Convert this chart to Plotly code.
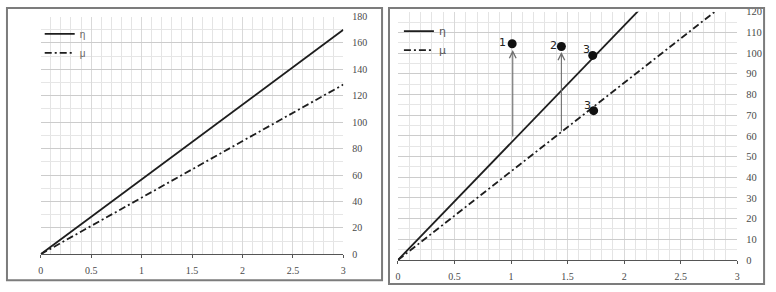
import plotly.graph_objects as go

# ---- data ----
line_x = [0, 3]
eta_y = [0, 170]
mu_y = [0, 128.5]

pt_x = [1.01, 1.445, 1.722, 1.73]
pt_y = [104.5, 103.2, 98.9, 72.2]
pt_labels = ["1", "2", "3", "3"]

arrow_x = [1.015, 1.445]
arrow_from = [59, 61.5]
arrow_to = [101.5, 100.5]

left_yticks = list(range(0, 181, 20))
right_yticks = list(range(0, 121, 10))
x_ticks = [0, 0.5, 1, 1.5, 2, 2.5, 3]
x_ticklabels = ["0", "0.5", "1", "1.5", "2", "2.5", "3"]

# label offsets (style, pixels)
lbl_xshift = [-10, -8, -6, -6]
lbl_yshift = [1, 1, 6, 5]

W, H = 776, 292
def px(v): return v / W
def py(v): return 1 - v / H

SERIF = "Liberation Serif"
SANS = "DejaVu Sans"
TICKC = "#4a4a4a"
AXC = "#555555"

fig = go.Figure()

eta_style = dict(color="#1e1e1e", width=1.8)
mu_style = dict(color="#1e1e1e", width=1.8, dash="7px,3px,2px,3px")

# left panel
fig.add_trace(go.Scatter(x=line_x, y=eta_y, mode="lines", name="η", line=eta_style,
                         xaxis="x", yaxis="y", legend="legend"))
fig.add_trace(go.Scatter(x=line_x, y=mu_y, mode="lines", name="μ", line=mu_style,
                         xaxis="x", yaxis="y", legend="legend"))
# right panel
fig.add_trace(go.Scatter(x=line_x, y=eta_y, mode="lines", name="η", line=eta_style,
                         xaxis="x2", yaxis="y2", legend="legend2"))
fig.add_trace(go.Scatter(x=line_x, y=mu_y, mode="lines", name="μ", line=mu_style,
                         xaxis="x2", yaxis="y2", legend="legend2"))
fig.add_trace(go.Scatter(x=pt_x, y=pt_y, mode="markers",
                         marker=dict(color="#111", size=9), showlegend=False,
                         xaxis="x2", yaxis="y2", cliponaxis=False))

for xv, yv, t, dx, dy in zip(pt_x, pt_y, pt_labels, lbl_xshift, lbl_yshift):
    fig.add_annotation(x=xv, y=yv, xref="x2", yref="y2", text=t, showarrow=False,
                       xshift=dx, yshift=dy, xanchor="center", yanchor="middle",
                       font=dict(family=SANS, size=11, color="#222"))

for xa, y0, y1 in zip(arrow_x, arrow_from, arrow_to):
    fig.add_annotation(x=xa, y=y1, ax=xa, ay=y0, xref="x2", yref="y2",
                       axref="x2", ayref="y2", text="", showarrow=True,
                       arrowhead=5, arrowsize=1.2, arrowwidth=1.1,
                       arrowcolor="#6e6e6e", standoff=0)

xcommon = dict(range=[0, 3], tickvals=x_ticks, ticktext=x_ticklabels,
               ticks="outside", ticklen=3, tickcolor=AXC, showline=True,
               linecolor=AXC, linewidth=1, showgrid=True, gridcolor="#d9d9d9",
               gridwidth=1, zeroline=False, ticklabelstandoff=4,
               tickfont=dict(family=SERIF, size=10, color=TICKC),
               minor=dict(dtick=0.1, showgrid=True, gridcolor="#e4e4e4", ticks=""),
               fixedrange=True)

fig.update_layout(
    width=W, height=H, margin=dict(l=0, r=0, t=0, b=0),
    paper_bgcolor="white", plot_bgcolor="white", showlegend=True,
    xaxis=dict(domain=[px(38), px(343)], anchor="y", **xcommon),
    yaxis=dict(domain=[py(259), py(12)], anchor="x", side="right", range=[0, 180],
               tickvals=left_yticks, showline=False, ticks="", zeroline=False,
               showgrid=True, gridcolor="#cccccc", ticklabelstandoff=8,
               tickfont=dict(family=SERIF, size=10, color=TICKC),
               minor=dict(dtick=10, showgrid=True, gridcolor="#e6e6e6"),
               fixedrange=True),
    yaxis3=dict(overlaying="y", anchor="x", side="left", range=[0, 180],
                showticklabels=False, showgrid=False, zeroline=False,
                showline=True, linecolor=AXC, linewidth=1,
                ticks="outside", ticklen=3, tickcolor=AXC, dtick=20,
                minor=dict(dtick=4, ticks="outside", ticklen=2, tickcolor=AXC, showgrid=False),
                fixedrange=True),
    xaxis2=dict(domain=[px(398), px(740)], anchor="y2", **xcommon),
    yaxis2=dict(domain=[py(265), py(7)], anchor="x2", side="right", range=[0, 120],
                tickvals=right_yticks, showline=False, ticks="", zeroline=False,
                showgrid=True, gridcolor="#cccccc", ticklabelstandoff=8,
                tickfont=dict(family=SERIF, size=10.5, color=TICKC),
                minor=dict(dtick=5, showgrid=True, gridcolor="#e6e6e6"),
                fixedrange=True),
    yaxis4=dict(overlaying="y2", anchor="x2", side="left", range=[0, 120],
                showticklabels=False, showgrid=False, zeroline=False,
                showline=True, linecolor=AXC, linewidth=1,
                ticks="outside", ticklen=3, tickcolor=AXC, dtick=10,
                minor=dict(dtick=2, ticks="outside", ticklen=2, tickcolor=AXC, showgrid=False),
                fixedrange=True),
    legend=dict(x=px(37), y=py(15), xanchor="left", yanchor="top",
                bgcolor="rgba(0,0,0,0)", borderwidth=0, tracegroupgap=0,
                font=dict(family="Liberation Sans", size=10, color="#666")),
    legend2=dict(x=px(399), y=py(12), xanchor="left", yanchor="top",
                 bgcolor="rgba(0,0,0,0)", borderwidth=0, tracegroupgap=0,
                 font=dict(family=SANS, size=11, color="#555")),
    shapes=[
        dict(type="rect", xref="paper", yref="paper", x0=px(4), x1=px(382),
             y0=py(286), y1=py(3), line=dict(color="#7c7c7c", width=2)),
        dict(type="rect", xref="paper", yref="paper", x0=px(389), x1=px(767),
             y0=py(290), y1=py(3), line=dict(color="#7c7c7c", width=2)),
    ],
)

fig.write_html("out.html")
